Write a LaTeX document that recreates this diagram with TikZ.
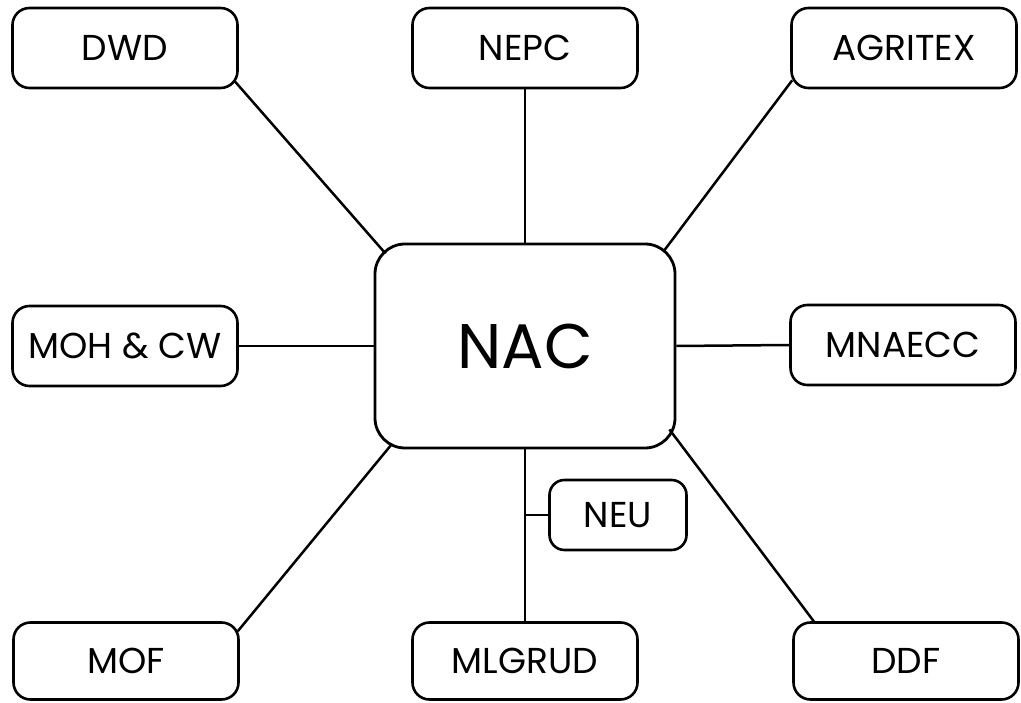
\documentclass[tikz,border=0pt]{standalone}
\usepackage{fontspec}
\setmainfont{Poppins}
\usepackage{tikz}
\usetikzlibrary{calc}
\tikzset{org/.style={draw,line width=2.6pt,rounded corners=17pt,minimum width=225pt,minimum height=80pt,inner sep=0pt,font=\fontsize{36}{40}\selectfont},hub/.style={draw,line width=2.8pt,rounded corners=30pt,minimum width=300pt,minimum height=204pt,inner sep=0pt,font=\fontsize{63}{68}\selectfont},link/.style={line width=2.5pt}}

\begin{document}
\begin{tikzpicture}[x=1pt,y=-1pt]
\useasboundingbox (0,0) rectangle (1021,703);
\node[hub] (nac) at (525,346) {NAC};
\node[org] (dwd) at (125,48) {DWD};
\node[org] (nepc) at (525,48) {NEPC};
\node[org] (agritex) at (904,48) {AGRITEX};
\node[org] (moh) at (125,346) {MOH \& CW};
\node[org] (mnaecc) at (903,345) {MNAECC};
\node[org,minimum height=77pt] (mof) at (126,661) {MOF};
\node[org,minimum height=77pt] (mlgrud) at (525,661) {MLGRUD};
\node[org,minimum height=77pt] (ddf) at (906,661) {DDF};
\node[org,minimum width=137pt,minimum height=70pt,rounded corners=15pt] (neu) at (618,515) {NEU};
% spokes
\draw[link] ($(dwd.south east)+(-4,-8)$) -- ($(nac.north west)+(12,11)$);
\draw[link] (nepc.south) -- (nac.north);
\draw[link] ($(agritex.south west)+(2,-9)$) -- ($(nac.north east)+(-13,9)$);
\draw[link] (moh.east) -- (nac.west);
\draw[link] (nac.east) -- (mnaecc.west);
\draw[link] ($(mof.north east)+(-2,10)$) -- ($(nac.south west)+(18,-5)$);
\draw[link] (nac.south) -- (mlgrud.north);
\draw[link] ($(ddf.north west)+(23,2)$) -- ($(nac.south east)+(-7,-20)$);
\draw[link] (neu.west) -- (neu.west -| nac.south);
\end{tikzpicture}
\end{document}
